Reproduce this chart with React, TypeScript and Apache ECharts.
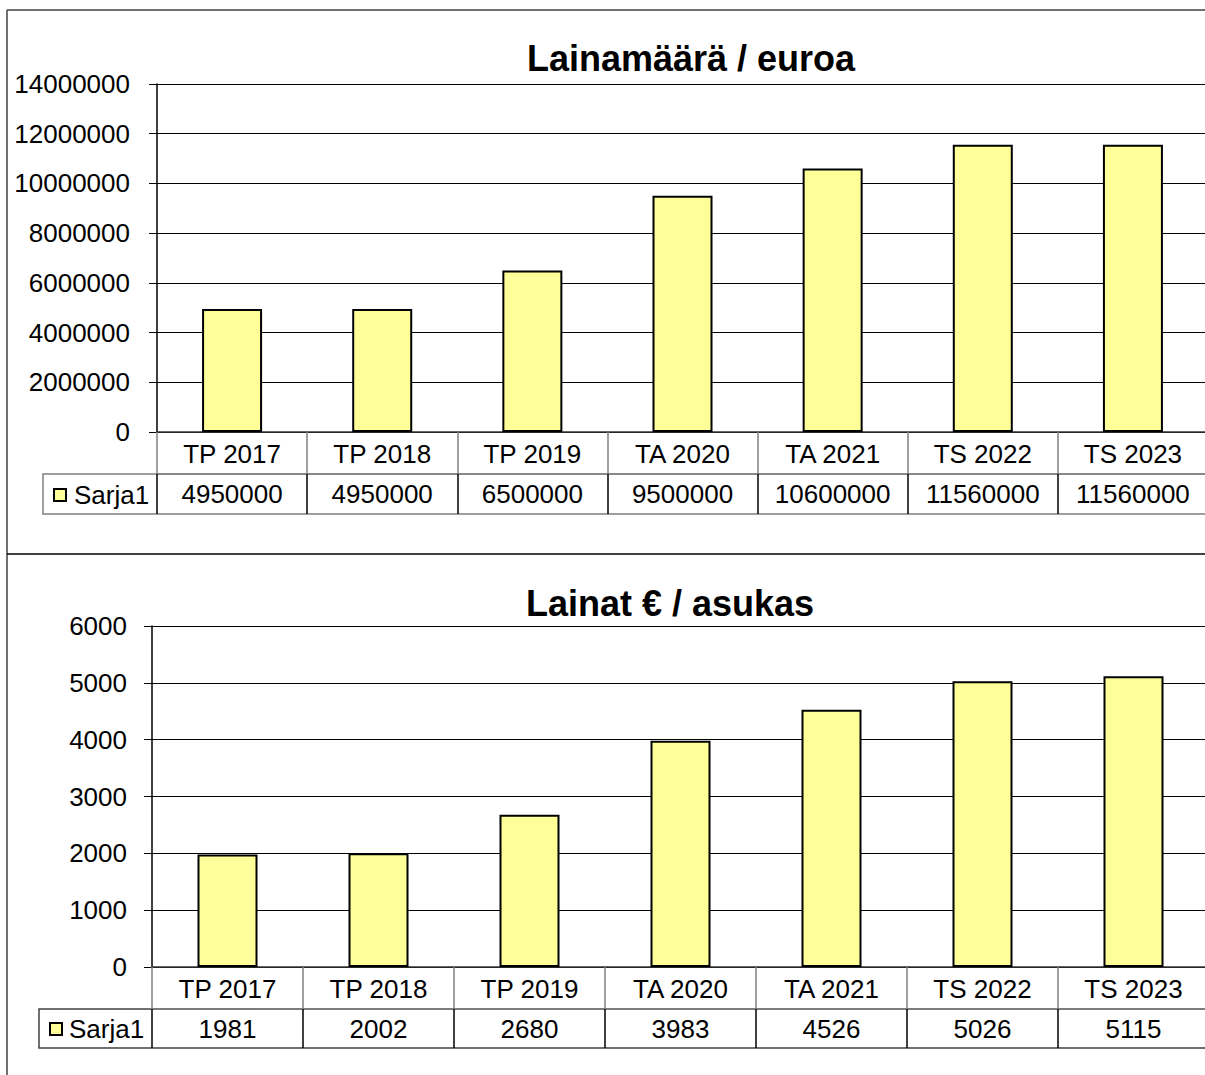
import React, { useEffect, useRef } from "react";
import * as echarts from "echarts";

const categories = ["TP 2017", "TP 2018", "TP 2019", "TA 2020", "TA 2021", "TS 2022", "TS 2023"];
const loans = [4950000, 4950000, 6500000, 9500000, 10600000, 11560000, 11560000];
const perResident = [1981, 2002, 2680, 3983, 4526, 5026, 5115];
const seriesName = "Sarja1";
const titleTop = "Lainamäärä / euroa";
const titleBottom = "Lainat € / asukas";

const FONT = "Liberation Sans, Arial, sans-serif";
const LBL = 26;

function yAxisCfg(gridIndex: number, max: number, interval: number, margin: number) {
  return {
    type: "value",
    gridIndex,
    min: 0,
    max,
    interval,
    axisLine: { show: true, lineStyle: { color: "#000", width: 1.5 } },
    axisTick: { show: true, inside: false, length: 8, lineStyle: { color: "#000" } },
    axisLabel: { margin, color: "#000", fontSize: LBL, fontFamily: FONT, formatter: (v: number) => String(v) },
    splitLine: { show: true, lineStyle: { color: "#000", width: 1 } },
  };
}

function catAxis(gridIndex: number, data: string[], offset: number, tickLen: number, tickColor: string, lineColor: string, margin: number) {
  return {
    type: "category",
    gridIndex,
    data,
    position: "bottom",
    offset,
    boundaryGap: true,
    axisLine: { show: true, onZero: false, lineStyle: { color: lineColor, width: 1.5 } },
    axisTick: { show: true, inside: false, length: tickLen, interval: 0, lineStyle: { color: tickColor, width: 1.5 } },
    axisLabel: { interval: 0, margin, color: "#000", fontSize: LBL, fontFamily: FONT },
    splitLine: { show: false },
  };
}

export default function App() {
  const ref = useRef<HTMLDivElement>(null);
  useEffect(() => {
    if (!ref.current) return;
    const chart = echarts.init(ref.current, undefined, { renderer: "svg" });
    const barStyle = { color: "#FFFF99", borderColor: "#000", borderWidth: 2 };
    chart.setOption({
      animation: false,
      backgroundColor: "#fff",
      textStyle: { fontFamily: FONT },
      grid: [
        { left: 157, top: 84, width: 1051, height: 348 },
        { left: 152, top: 626, width: 1057, height: 341 },
      ],
      xAxis: [
        catAxis(0, categories, 0, 42, "#808080", "#333", 9),
        catAxis(0, loans.map((v) => String(v)), 42, 40, "#000", "#808080", 7),
        catAxis(1, categories, 0, 42, "#808080", "#333", 9),
        catAxis(1, perResident.map((v) => String(v)), 42, 39, "#000", "#808080", 7),
      ],
      yAxis: [yAxisCfg(0, 14000000, 2000000, 27), yAxisCfg(1, 6000, 1000, 25)],
      legend: [
        {
          data: [seriesName],
          left: 53,
          top: 482,
          padding: 0,
          icon: "rect",
          itemWidth: 12,
          itemHeight: 12,
          selectedMode: false,
          itemStyle: { borderColor: "#000", borderWidth: 2 },
          textStyle: { fontSize: LBL, color: "#000", fontFamily: FONT, padding: [0, 0, 0, 3] },
        },
        {
          data: [seriesName],
          left: 49,
          top: 1016,
          padding: 0,
          icon: "rect",
          itemWidth: 12,
          itemHeight: 12,
          selectedMode: false,
          itemStyle: { borderColor: "#000", borderWidth: 2 },
          textStyle: { fontSize: LBL, color: "#000", fontFamily: FONT, padding: [0, 0, 0, 2] },
        },
      ],
      series: [
        { name: seriesName, type: "bar", xAxisIndex: 0, yAxisIndex: 0, data: loans, barWidth: 60, itemStyle: barStyle },
        { name: seriesName, type: "bar", xAxisIndex: 2, yAxisIndex: 1, data: perResident, barWidth: 60, itemStyle: barStyle },
      ],
      graphic: [
        { type: "line", shape: { x1: 7, y1: 10, x2: 1215, y2: 10 }, style: { stroke: "#404040", lineWidth: 1.5 } },
        { type: "line", shape: { x1: 7, y1: 10, x2: 7, y2: 1075 }, style: { stroke: "#404040", lineWidth: 1.5 } },
        { type: "line", shape: { x1: 7, y1: 554, x2: 1215, y2: 554 }, style: { stroke: "#000", lineWidth: 1.5 } },
        { type: "rect", shape: { x: 43, y: 474, width: 1180, height: 40 }, style: { fill: "none", stroke: "#808080", lineWidth: 1.5 } },
        { type: "rect", shape: { x: 39, y: 1009, width: 1180, height: 39 }, style: { fill: "none", stroke: "#404040", lineWidth: 1.5 } },
        {
          type: "text", x: 691, y: 58,
          style: { text: titleTop, fontSize: 36, fontWeight: "bold", fontFamily: FONT, fill: "#000", align: "center", verticalAlign: "middle" },
        },
        {
          type: "text", x: 670, y: 603,
          style: { text: titleBottom, fontSize: 36, fontWeight: "bold", fontFamily: FONT, fill: "#000", align: "center", verticalAlign: "middle" },
        },
      ],
    });
    return () => chart.dispose();
  }, []);
  return (
    <div style={{ position: "fixed", left: 0, top: 0, width: 1205, height: 1075, overflow: "hidden", background: "#fff" }}>
      <div ref={ref} style={{ width: 1215, height: 1075 }} />
    </div>
  );
}
